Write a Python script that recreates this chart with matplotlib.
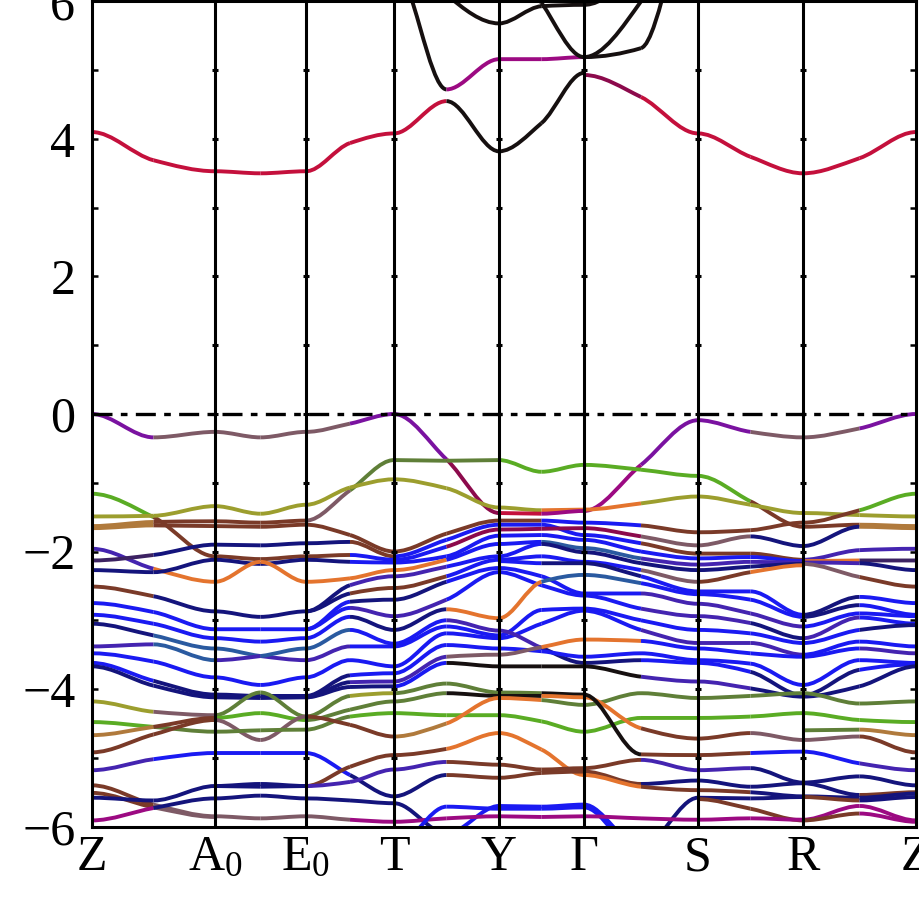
import numpy as np
import matplotlib.pyplot as plt
from matplotlib.path import Path
from matplotlib.patches import PathPatch

plt.rcParams['font.family'] = 'Liberation Serif'
plt.rcParams['mathtext.fontset'] = 'custom'
plt.rcParams['mathtext.rm'] = 'Liberation Serif'
plt.rcParams['mathtext.it'] = 'Liberation Serif:italic'

# high-symmetry points (distance along the k-path) and their labels
kpts = [0, 123, 214, 302, 407, 492, 606, 711, 824]
klabels = ['Z', r'A$_0$', r'E$_0$', 'T', 'Y', 'Γ', 'S', 'R', 'Z']

# projection colours (code -> colour)
PALETTE = {
    'P': '#7a12a0', 'm': '#7e5a66', 'G': '#5aac24', 'g': '#5f7f38',
    'O': '#9c9e2e', 'T': '#b07a3c', 'R': '#7a3a28', 'o': '#e4742e',
    'B': '#1a1af2', 'N': '#14147c', 'V': '#4424b0', 'S': '#2a5aa0',
    'C': '#c4103c', 'M': '#9c0a82', 'K': '#161010', 'W': '#8c0a4c',
    'D': '#3c2262',
}

# band energies (eV) per segment: value at start point, segment midpoint, end point
# colour code: first half / second half
ZA_start = [4.10, 0.00, -1.16, -1.49, -1.63, -1.66, -1.96, -2.13, -2.27, -2.51, -2.75, -2.92, -3.05, -3.38, -3.48, -3.62, -3.67, -4.18, -4.48, -4.67, -4.92, -5.18, -5.40, -5.51, -5.58, -5.91]
ZA_mid = [3.69, -0.34, -1.50, -1.48, -1.57, -1.62, -2.25, -2.05, -2.30, -2.65, -2.88, -3.05, -3.22, -3.35, -3.60, -3.88, -3.95, -4.33, -4.55, -4.55, -4.66, -5.02, -5.68, -5.72, -5.62, -5.73]
ZA_end = [3.53, -0.26, -2.07, -1.34, -1.56, -1.63, -2.44, -1.90, -2.12, -2.87, -3.13, -3.26, -3.41, -3.58, -3.83, -4.08, -4.12, -4.38, -4.62, -4.42, -4.45, -4.93, -5.85, -5.86, -5.41, -5.59]
ZA_col = ['C', 'Pm', 'GR', 'O', 'TR', 'TR', 'Vo', 'DN', 'N', 'RN', 'B', 'B', 'NS', 'VS', 'B', 'BN', 'N', 'Om', 'Gg', 'TR', 'R', 'VB', 'Rm', 'Rm', 'N', 'MN']

AE_start = [3.53, -0.26, -1.34, -1.56, -1.63, -1.90, -2.07, -2.12, -2.44, -2.87, -3.13, -3.26, -3.41, -3.58, -3.83, -4.08, -4.12, -4.38, -4.42, -4.45, -4.62, -4.93, -5.41, -5.41, -5.59, -5.85]
AE_mid = [3.50, -0.34, -1.45, -1.58, -1.64, -1.91, -2.11, -2.18, -2.15, -2.95, -3.13, -3.31, -3.52, -3.52, -3.94, -4.10, -4.13, -4.05, -4.35, -4.74, -4.60, -4.93, -5.38, -5.42, -5.55, -5.88]
AE_end = [3.53, -0.26, -1.32, -1.55, -1.61, -1.88, -2.07, -2.12, -2.44, -2.87, -3.13, -3.26, -3.58, -3.41, -3.83, -4.10, -4.12, -4.40, -4.45, -4.40, -4.59, -4.93, -5.41, -5.41, -5.59, -5.85]
AE_col = ['C', 'm', 'O', 'R', 'R', 'N', 'R', 'N', 'o', 'N', 'B', 'B', 'SV', 'VS', 'B', 'N', 'N', 'g', 'G', 'm', 'g', 'B', 'N', 'N', 'N', 'm']

ET_start = [3.53, -0.26, -1.55, -1.32, -1.61, -1.88, -2.07, -2.12, -2.44, -2.87, -2.87, -3.13, -3.13, -3.26, -3.41, -3.58, -3.83, -4.10, -4.12, -4.12, -4.40, -4.45, -4.59, -4.40, -4.93, -5.41, -5.41, -5.59, -5.85]
ET_mid = [3.94, -0.14, -1.11, -1.07, -1.76, -1.86, -2.05, -2.15, -2.39, -2.49, -2.61, -2.73, -2.82, -2.95, -3.14, -3.38, -3.58, -3.80, -3.90, -3.97, -4.10, -4.30, -4.40, -4.52, -5.25, -5.13, -5.35, -5.62, -5.90]
ET_end = [4.08, 0.00, -0.67, -0.95, -2.00, -2.07, -2.12, -2.16, -2.27, -2.36, -2.53, -2.70, -2.94, -3.14, -3.34, -3.38, -3.67, -3.77, -3.89, -3.96, -4.06, -4.18, -4.35, -4.69, -5.56, -4.96, -5.17, -5.66, -5.93]
ET_col = ['C', 'mP', 'mg', 'O', 'R', 'NR', 'RB', 'NB', 'o', 'NV', 'NR', 'BN', 'BV', 'BN', 'SB', 'VB', 'B', 'NB', 'NV', 'N', 'gO', 'gg', 'gG', 'R', 'BN', 'R', 'V', 'N', 'mM']

TY_start = [4.08, 6.50, 7.50, 0.00, -0.67, -0.95, -2.00, -2.07, -2.12, -2.16, -2.27, -2.36, -2.53, -2.70, -2.94, -3.14, -3.34, -3.38, -3.67, -3.77, -3.89, -3.96, -4.06, -4.18, -4.35, -4.69, -4.96, -5.17, -5.56, -5.66, -5.93, -6.30]
TY_mid = [4.55, 4.72, 6.10, -0.66, -0.68, -1.08, -1.74, -1.83, -1.93, -2.07, -2.12, -2.22, -2.36, -2.44, -2.70, -2.84, -3.00, -3.09, -3.19, -3.36, -3.53, -3.62, -3.92, -4.06, -4.38, -4.50, -4.87, -5.06, -5.25, -6.10, -5.88, -5.71]
TY_end = [3.82, 5.16, 5.68, -1.44, -0.67, -1.36, -1.55, -1.61, -1.68, -1.77, -1.89, -2.07, -2.12, -2.24, -2.30, -2.97, -3.15, -3.22, -3.26, -3.41, -3.50, -3.67, -4.05, -4.10, -4.38, -4.13, -4.64, -5.10, -5.29, -5.70, -5.85, -5.74]
TY_col = ['CK', 'KM', 'K', 'PW', 'g', 'O', 'R', 'B', 'BW', 'B', 'oB', 'VB', 'RB', 'NB', 'VB', 'No', 'BV', 'B', 'B', 'B', 'Vm', 'BK', 'gg', 'gK', 'G', 'To', 'Ro', 'VR', 'NR', 'NB', 'M', 'B']

YG_start = [3.82, 5.16, 5.68, 7.00, -0.67, -1.36, -1.44, -1.55, -1.61, -1.68, -1.77, -1.89, -2.07, -2.12, -2.14, -2.24, -2.30, -2.97, -3.22, -3.26, -3.15, -3.41, -3.50, -3.67, -4.05, -4.10, -4.13, -4.38, -4.64, -5.10, -5.29, -5.70, -5.74, -5.85]
YG_mid = [4.23, 5.16, 5.93, 5.98, -0.84, -1.40, -1.45, -1.55, -1.61, -1.67, -1.76, -1.86, -1.89, -2.07, -2.17, -2.36, -2.49, -2.44, -2.85, -3.05, -3.40, -3.45, -3.39, -3.67, -4.06, -4.10, -4.16, -4.47, -4.88, -5.17, -5.22, -5.71, -5.74, -5.86]
YG_end = [4.96, 5.19, 5.95, 5.19, -0.74, -1.39, -1.41, -1.58, -1.76, -1.66, -1.83, -1.95, -2.01, -2.15, -2.17, -2.61, -2.64, -2.34, -2.83, -2.86, -3.62, -3.53, -3.28, -3.67, -4.08, -4.12, -4.23, -4.62, -5.25, -5.15, -5.20, -5.68, -5.72, -5.85]
YG_col = ['K', 'M', 'K', 'K', 'G', 'Oo', 'CM', 'RB', 'B', 'W', 'B', 'BS', 'BN', 'B', 'BN', 'B', 'B', 'oS', 'B', 'B', 'VN', 'B', 'mo', 'K', 'gK', 'Ko', 'og', 'G', 'o', 'R', 'R', 'B', 'B', 'M']

GS_start = [4.93, 5.19, 5.95, 5.19, -1.41, -0.74, -1.39, -1.58, -1.66, -1.76, -1.83, -1.95, -2.01, -2.15, -2.17, -2.34, -2.61, -2.64, -2.83, -2.86, -3.28, -3.53, -3.62, -3.67, -4.23, -4.62, -4.12, -4.08, -5.15, -5.20, -5.25, -5.68, -5.72, -5.85]
GS_mid = [4.61, 5.32, 6.50, 6.00, -0.74, -0.81, -1.30, -1.62, -1.78, -1.88, -2.00, -2.10, -2.17, -2.27, -2.36, -2.46, -2.61, -2.83, -3.00, -3.14, -3.30, -3.48, -3.58, -3.82, -4.06, -4.42, -4.57, -4.95, -5.03, -5.38, -5.42, -6.30, -6.40, -5.88]
GS_end = [4.08, 7.50, 8.00, 8.00, -0.09, -0.90, -1.20, -1.72, -1.91, -2.03, -2.10, -2.19, -2.27, -2.44, -2.58, -2.62, -2.76, -2.94, -3.14, -3.33, -3.41, -3.58, -3.62, -3.89, -4.13, -4.42, -4.72, -4.96, -5.18, -5.33, -5.47, -5.58, -6.30, -5.90]
GS_col = ['WC', 'K', 'K', 'K', 'MP', 'G', 'oO', 'BR', 'Wm', 'BR', 'B', 'SV', 'N', 'Bm', 'NB', 'SB', 'BV', 'BV', 'B', 'BV', 'oB', 'B', 'NB', 'KV', 'g', 'G', 'oR', 'KR', 'RV', 'RN', 'oR', 'BN', 'B', 'M']

SR_start = [4.08, -0.09, -0.90, -1.20, -1.72, -1.91, -2.03, -2.10, -2.19, -2.27, -2.44, -2.58, -2.62, -2.76, -2.94, -3.14, -3.33, -3.41, -3.58, -3.62, -3.89, -4.13, -4.42, -4.72, -4.96, -5.18, -5.33, -5.47, -5.58, -5.60, -5.90]
SR_mid = [3.74, -0.26, -1.27, -1.32, -1.69, -1.78, -2.03, -2.08, -2.15, -2.22, -2.30, -2.58, -2.70, -2.90, -3.04, -3.19, -3.33, -3.48, -3.63, -3.75, -3.99, -4.10, -4.40, -4.64, -4.93, -5.15, -5.42, -5.50, -5.59, -5.74, -5.88]
SR_end = [3.50, -0.34, -1.64, -1.44, -1.58, -1.92, -2.12, -2.14, -2.16, -2.18, -2.20, -2.92, -2.95, -3.09, -3.26, -3.33, -3.50, -3.53, -3.94, -4.09, -4.11, -4.06, -4.35, -4.74, -4.91, -5.36, -5.37, -5.56, -5.57, -5.91, -5.90]
SR_col = ['C', 'Pm', 'GR', 'O', 'R', 'mN', 'R', 'B', 'V', 'N', 'Ro', 'B', 'B', 'V', 'VN', 'B', 'V', 'B', 'B', 'BN', 'VN', 'g', 'G', 'Rm', 'RB', 'VN', 'N', 'RN', 'N', 'RR', 'M']

RZ_start = [3.50, -0.34, -1.44, -1.58, -1.64, -1.92, -2.12, -2.14, -2.16, -2.18, -2.92, -2.95, -3.09, -3.26, -3.33, -3.50, -3.53, -3.94, -4.09, -4.11, -4.06, -4.35, -4.60, -4.74, -4.91, -5.36, -5.37, -5.56, -5.57, -5.90, -5.91]
RZ_mid = [3.72, -0.21, -1.47, -1.40, -1.61, -1.64, -1.98, -2.13, -2.17, -2.37, -2.66, -2.78, -2.90, -2.96, -3.14, -3.31, -3.41, -3.58, -3.72, -3.96, -4.21, -4.45, -4.59, -4.69, -5.08, -5.27, -5.54, -5.58, -5.62, -5.70, -5.81]
RZ_end = [4.10, 0.00, -1.49, -1.16, -1.63, -1.66, -1.96, -2.13, -2.27, -2.51, -2.75, -2.92, -2.94, -3.05, -3.07, -3.38, -3.48, -3.62, -3.64, -3.67, -4.18, -4.48, -4.67, -4.92, -5.18, -5.40, -5.50, -5.52, -5.57, -5.91, -5.93]
RZ_col = ['C', 'mP', 'O', 'RG', 'RT', 'NT', 'V', 'oD', 'VN', 'mR', 'NB', 'NB', 'B', 'VB', 'BN', 'B', 'BV', 'B', 'NB', 'N', 'g', 'G', 'gT', 'mR', 'BV', 'N', 'NR', 'N', 'RN', 'M', 'RM']

segments = [
    (ZA_start, ZA_mid, ZA_end, ZA_col),
    (AE_start, AE_mid, AE_end, AE_col),
    (ET_start, ET_mid, ET_end, ET_col),
    (TY_start, TY_mid, TY_end, TY_col),
    (YG_start, YG_mid, YG_end, YG_col),
    (GS_start, GS_mid, GS_end, GS_col),
    (SR_start, SR_mid, SR_end, SR_col),
    (RZ_start, RZ_mid, RZ_end, RZ_col),
]


def draw_band(ax, x0, x1, e0, em, e1, cols, lw=2.8):
    # smooth curve through (start, mid, end), flat at the high-symmetry points
    h = (x1 - x0) / 2.0
    xm = x0 + h
    d1 = (em - e0) / h
    d2 = (e1 - em) / h
    s = 2 * d1 * d2 / (d1 + d2) if d1 * d2 > 0 else 0.0
    halves = [
        [(x0, e0), (x0 + h / 3, e0), (xm - h / 3, em - s * h / 3), (xm, em)],
        [(xm, em), (xm + h / 3, em + s * h / 3), (x1 - h / 3, e1), (x1, e1)],
    ]
    codes = [Path.MOVETO, Path.CURVE4, Path.CURVE4, Path.CURVE4]
    for verts, c in zip(halves, (cols[0], cols[-1])):
        ax.add_patch(PathPatch(Path(verts, codes), fill=False,
                               edgecolor=PALETTE[c], lw=lw, capstyle='butt', zorder=2))


fig = plt.figure(figsize=(9.19, 9.0), dpi=100)
ax = fig.add_axes([92 / 919, 73.4 / 900, 824 / 919, 825.2 / 900])

for i, (st, md, en, cl) in enumerate(segments):
    x0, x1 = kpts[i], kpts[i + 1]
    for e0, em, e1, c in zip(st, md, en, cl):
        draw_band(ax, x0, x1, e0, em, e1, c)

for k in kpts[1:-1]:
    ax.axvline(k, color='k', lw=2.2, zorder=4)
ax.axhline(0, color='k', lw=2.4, ls=(0, (6, 2.5, 2, 2.5)), zorder=5)

# small tick dots on the internal vertical lines
yt_minor = np.arange(-5, 6, 1)
for k in kpts[1:-1]:
    ax.plot([k] * len(yt_minor), yt_minor, ls='none', marker='_', ms=4.5, mew=2.2,
            color='k', zorder=5)

ax.set_xlim(kpts[0], kpts[-1])
ax.set_ylim(-6, 6)
ax.set_xticks(kpts)
ax.set_xticklabels(klabels, fontsize=36)
ax.set_yticks(np.arange(-6, 7, 2))
ax.set_yticks(np.arange(-5, 6, 2), minor=True)
ax.tick_params(axis='x', length=0, pad=6)
ax.tick_params(axis='y', which='both', direction='in', length=4, width=1.8,
               labelsize=36, pad=12, left=True, right=True)
for sp in ax.spines.values():
    sp.set_linewidth(2.2)
    sp.set_zorder(6)

fig.savefig('out.png', dpi=100)
